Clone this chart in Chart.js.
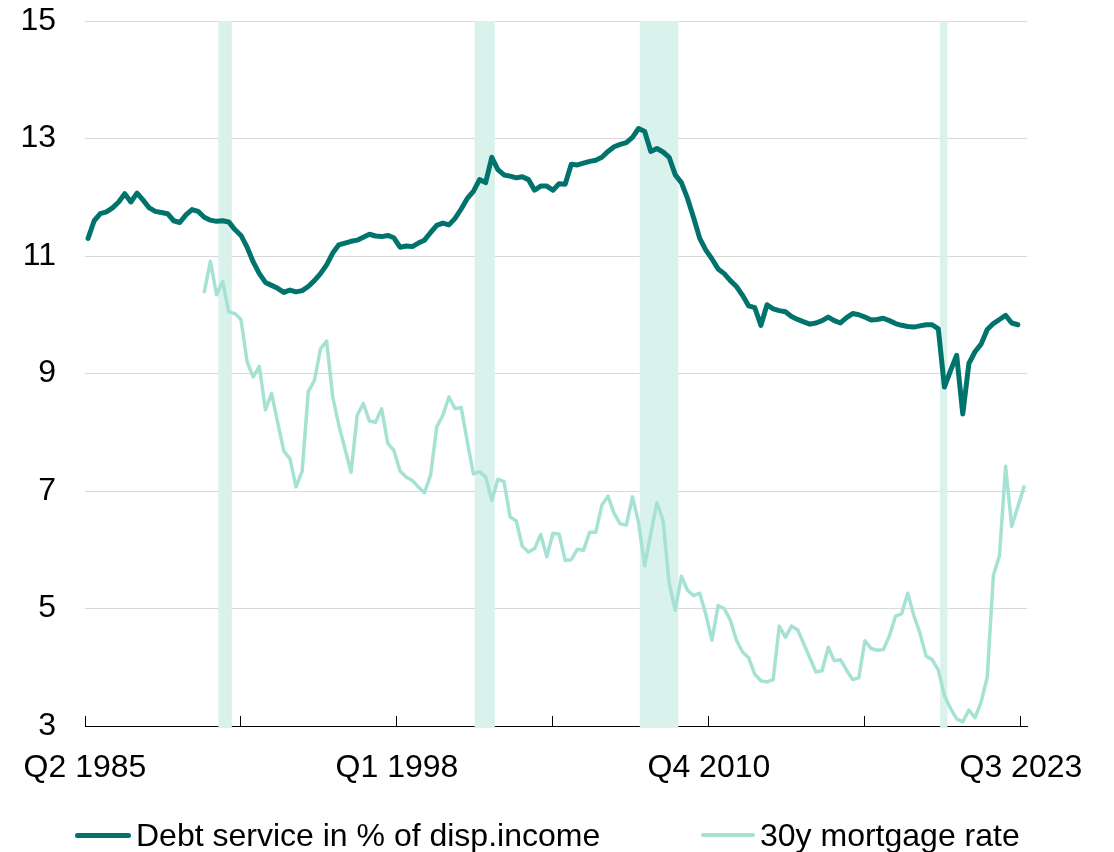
<!DOCTYPE html>
<html>
<head>
<meta charset="utf-8">
<title>Debt service vs mortgage rate</title>
<script src="https://cdn.jsdelivr.net/npm/chart.js@4.4.0/dist/chart.umd.min.js"></script>
<style>
  body { margin: 0; background: #fff; }
  #wrap { position: relative; width: 1114px; height: 852px; }
  #legend {
    position: absolute; left: 0; top: 815px; width: 1114px; height: 40px;
    font-family: "Liberation Sans", Arial, sans-serif; font-size: 32px; color: #000;
  }
  .item { position: absolute; top: 0; height: 40px; display: flex; align-items: center; white-space: nowrap; }
  .swatch { display: inline-block; border-radius: 3px; }
</style>
</head>
<body>
<div id="wrap">
  <canvas id="debtChart"></canvas>
  <div id="legend"></div>
</div>
<script>
// quarters from Q2 1985 to Q3 2023
const quarters = [];
for (let y = 1985, q = 2; quarters.length < 154; ) {
  quarters.push("Q" + q + " " + y);
  q++;
  if (q > 4) { q = 1; y++; }
}

const tickLabels = ["Q2 1985", "Q1 1998", "Q4 2010", "Q3 2023"];

// debt service in % of disposable income (Q2 1985 .. Q2 2023)
const debtService = [
  11.3, 11.6, 11.72, 11.75, 11.82, 11.92, 12.06, 11.92, 12.07, 11.95,
  11.82, 11.76, 11.74, 11.72, 11.6, 11.57, 11.7, 11.79, 11.76, 11.66,
  11.61, 11.59, 11.6, 11.58, 11.45, 11.35, 11.15, 10.9, 10.7, 10.55,
  10.5, 10.45, 10.38, 10.42, 10.39, 10.41, 10.48, 10.58, 10.7, 10.85,
  11.05, 11.19, 11.22, 11.25, 11.27, 11.32, 11.37, 11.34, 11.33, 11.35,
  11.31, 11.15, 11.17, 11.16, 11.22, 11.27, 11.4, 11.52, 11.56, 11.53,
  11.64, 11.8, 11.98, 12.1, 12.3, 12.25, 12.68, 12.47, 12.38, 12.36,
  12.33, 12.35, 12.3, 12.12, 12.19, 12.19, 12.12, 12.23, 12.22, 12.56,
  12.55, 12.58, 12.61, 12.63, 12.68, 12.78, 12.86, 12.9, 12.93, 13.02,
  13.17, 13.12, 12.78, 12.83, 12.77, 12.68, 12.38, 12.25, 11.98, 11.65,
  11.3, 11.1, 10.95, 10.78, 10.7, 10.58, 10.48, 10.33, 10.15, 10.12,
  9.82, 10.17, 10.1, 10.07, 10.05, 9.97, 9.92, 9.88, 9.84, 9.86,
  9.9, 9.96, 9.9, 9.86, 9.95, 10.02, 10.0, 9.96, 9.91, 9.92,
  9.94, 9.9, 9.85, 9.82, 9.8, 9.79, 9.81, 9.83, 9.83, 9.76,
  8.77, 9.05, 9.31, 8.31, 9.17, 9.37, 9.5, 9.75, 9.85, 9.92,
  9.99, 9.86, 9.83
];

// 30y mortgage rate (starts Q1 1990)
const mortgageRate = [
  null, null, null, null, null, null, null, null, null, null,
  null, null, null, null, null, null, null, null, null, 10.39,
  10.91, 10.34, 10.57, 10.05, 10.02, 9.92, 9.2, 8.94, 9.12, 8.38,
  8.66, 8.17, 7.68, 7.55, 7.07, 7.34, 8.69, 8.88, 9.42, 9.55,
  8.6, 8.12, 7.72, 7.32, 8.29, 8.49, 8.19, 8.17, 8.4, 7.81,
  7.69, 7.34, 7.24, 7.18, 7.07, 6.97, 7.27, 8.09, 8.29, 8.6,
  8.4, 8.42, 7.84, 7.29, 7.33, 7.24, 6.84, 7.2, 7.16, 6.56,
  6.49, 6.06, 5.96, 6.02, 6.26, 5.88, 6.28, 6.27, 5.82, 5.83,
  6.01, 5.99, 6.3, 6.3, 6.76, 6.91, 6.62, 6.44, 6.42, 6.9,
  6.46, 5.73, 6.28, 6.8, 6.5, 5.43, 4.97, 5.55, 5.31, 5.22,
  5.26, 4.9, 4.46, 5.05, 5.0, 4.8, 4.46, 4.26, 4.16, 3.88,
  3.77, 3.75, 3.79, 4.7, 4.51, 4.7, 4.64, 4.4, 4.16, 3.92,
  3.94, 4.34, 4.11, 4.13, 3.95, 3.79, 3.82, 4.45, 4.32, 4.29,
  4.3, 4.53, 4.87, 4.91, 5.26, 4.88, 4.58, 4.19, 4.13, 3.95,
  3.52, 3.3, 3.12, 3.07, 3.27, 3.14, 3.41, 3.83, 5.56, 5.9,
  7.42, 6.4, 6.73, 7.07
];

// recession shading, in quarter units on the x axis
const recessions = [[21.8, 24], [63.7, 67], [90.7, 97], [139.8, 141]];

const darkTeal = "#00736c";
const lightTeal = "#a6e2d3";
const bandColor = "#d9f2eb";
const font = { family: "'Liberation Sans', Arial, sans-serif", size: 32 };

// each quarter sits in the middle of its slot
function toPoints(values) {
  return values.map((v, i) => ({ x: i + 0.5, y: v }));
}

const recessionBands = {
  id: "recessionBands",
  beforeDatasetsDraw(chart) {
    const { ctx, chartArea, scales } = chart;
    ctx.save();
    ctx.fillStyle = bandColor;
    recessions.forEach(([a, b]) => {
      const x1 = scales.x.getPixelForValue(a);
      const x2 = scales.x.getPixelForValue(b);
      ctx.fillRect(x1, chartArea.top, x2 - x1, chartArea.bottom - chartArea.top + 2);
    });
    ctx.restore();
  }
};

const data = {
  datasets: [
    {
      label: "Debt service in % of disp.income",
      data: toPoints(debtService),
      borderColor: darkTeal,
      backgroundColor: darkTeal,
      borderWidth: 5,
      pointRadius: 0,
      borderJoinStyle: "round",
      borderCapStyle: "round",
      order: 1
    },
    {
      label: "30y mortgage rate",
      data: toPoints(mortgageRate),
      borderColor: lightTeal,
      backgroundColor: lightTeal,
      borderWidth: 3.5,
      pointRadius: 0,
      borderJoinStyle: "round",
      borderCapStyle: "round",
      order: 2
    }
  ]
};

const config = {
  type: "line",
  data: data,
  plugins: [recessionBands],
  options: {
    responsive: true,
    maintainAspectRatio: false,
    animation: false,
    events: [],
    layout: { padding: { top: 21, right: 87, left: 0, bottom: 0 } },
    plugins: {
      legend: { display: false },
      tooltip: { enabled: false }
    },
    scales: {
      x: {
        type: "linear",
        min: 0,
        max: 154,
        afterFit: (s) => {
          s.height = 126;
          s.paddingLeft = 0;
          s.paddingRight = 0;
        },
        border: { display: true, color: "#000", width: 1 },
        grid: { drawOnChartArea: false, drawTicks: true, tickLength: -10, color: "#000", lineWidth: 1 },
        ticks: {
          stepSize: 25.5,
          includeBounds: false,
          autoSkip: false,
          maxRotation: 0,
          padding: 33,
          color: "#000",
          font: font,
          callback: (value) => {
            const q = quarters[value];
            return tickLabels.includes(q) ? q : "";
          }
        }
      },
      y: {
        min: 3,
        max: 15,
        afterFit: (s) => {
          s.width = 85;
          s.paddingTop = 0;
          s.paddingBottom = 0;
        },
        border: { display: false },
        grid: {
          drawTicks: false,
          lineWidth: 1,
          color: (c) => (c.tick && c.tick.value === 3 ? "rgba(0,0,0,0)" : "#d9d9d9")
        },
        ticks: { stepSize: 2, padding: 29, color: "#000", font: font }
      }
    }
  }
};

const debtChart = new Chart(document.getElementById("debtChart"), config);

// legend below the plot
const legendPos = [{ left: 75, w: 56, h: 5, gap: 5 }, { left: 701, w: 54, h: 4, gap: 5 }];
const legend = document.getElementById("legend");
debtChart.data.datasets.forEach((ds, i) => {
  const p = legendPos[i];
  const item = document.createElement("div");
  item.className = "item";
  item.style.left = p.left + "px";
  const sw = document.createElement("span");
  sw.className = "swatch";
  sw.style.width = p.w + "px";
  sw.style.height = p.h + "px";
  sw.style.marginRight = p.gap + "px";
  sw.style.background = ds.borderColor;
  const txt = document.createElement("span");
  txt.textContent = ds.label;
  item.appendChild(sw);
  item.appendChild(txt);
  legend.appendChild(item);
});
</script>
</body>
</html>
